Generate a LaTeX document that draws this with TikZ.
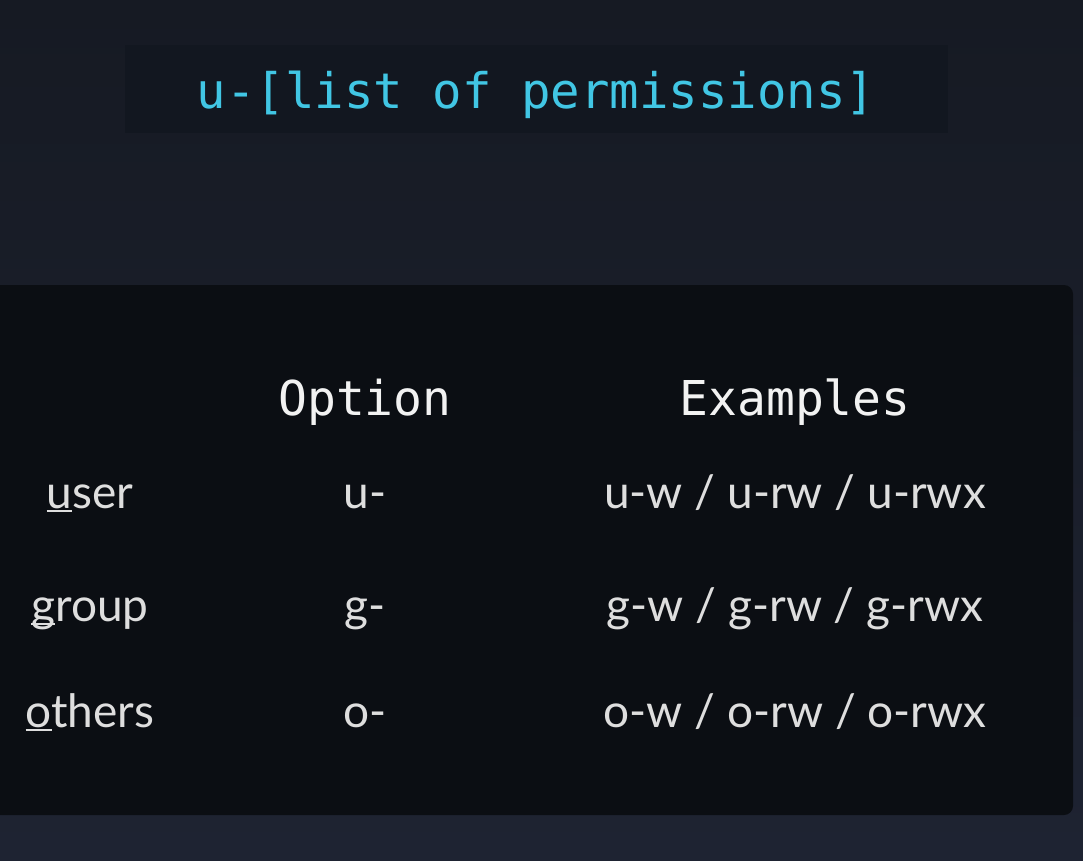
\documentclass[tikz,border=0pt]{standalone}
\usepackage{fontspec}
\setmainfont{Lato}
\newfontfamily\codefont{DejaVu Sans Mono}
\definecolor{bgtop}{HTML}{161A23}
\definecolor{bgbot}{HTML}{1E2332}
\definecolor{codebg}{HTML}{121720}
\definecolor{tablebg}{HTML}{0B0E13}
\definecolor{cyantext}{HTML}{41C6E4}
\definecolor{headtext}{HTML}{F2F2F2}
\definecolor{celltext}{HTML}{DEDEDE}
\newcommand\firstul[1]{\setbox0\hbox{#1}\rlap{\rule[-3.5pt]{\wd0}{1.8pt}}#1}
\tikzset{
  x=1pt, y=-1pt,
  titletext/.style={font=\codefont\fontsize{49}{49}\selectfont, text=cyantext, anchor=base, inner sep=0},
  headtext/.style={font=\codefont\fontsize{48}{48}\selectfont, text=headtext, anchor=base, inner sep=0},
  cell/.style={font=\fontsize{46}{46}\selectfont, text=celltext, anchor=base, inner sep=0},
}
\begin{document}
\begin{tikzpicture}
\shade[top color=bgtop, bottom color=bgbot] (0,0) rectangle (1083,860);
\useasboundingbox (0,0) rectangle (1083,860);
\fill[codebg] (125,45) rectangle (948,133);
\node[titletext] (title) at (536,108) {u-[list of permissions]};
\fill[tablebg, rounded corners=9pt] (-20,285) rectangle (1073,815);
\node[headtext] (hopt) at (365,415) {Option};
\node[headtext] (hex) at (795,415) {Examples};
\node[cell] (user) at (90,508) {\firstul{u}ser};
\node[cell] (uopt) at (365,508) {u-};
\node[cell] (uex) at (795,508) {u-w / u-rw / u-rwx};
\node[cell] (group) at (90,621) {\firstul{g}roup};
\node[cell] (gopt) at (365,621) {g-};
\node[cell] (gex) at (795,621) {g-w / g-rw / g-rwx};
\node[cell] (others) at (90,727) {\firstul{o}thers};
\node[cell] (oopt) at (365,727) {o-};
\node[cell] (oex) at (795,727) {o-w / o-rw / o-rwx};
\end{tikzpicture}
\end{document}
